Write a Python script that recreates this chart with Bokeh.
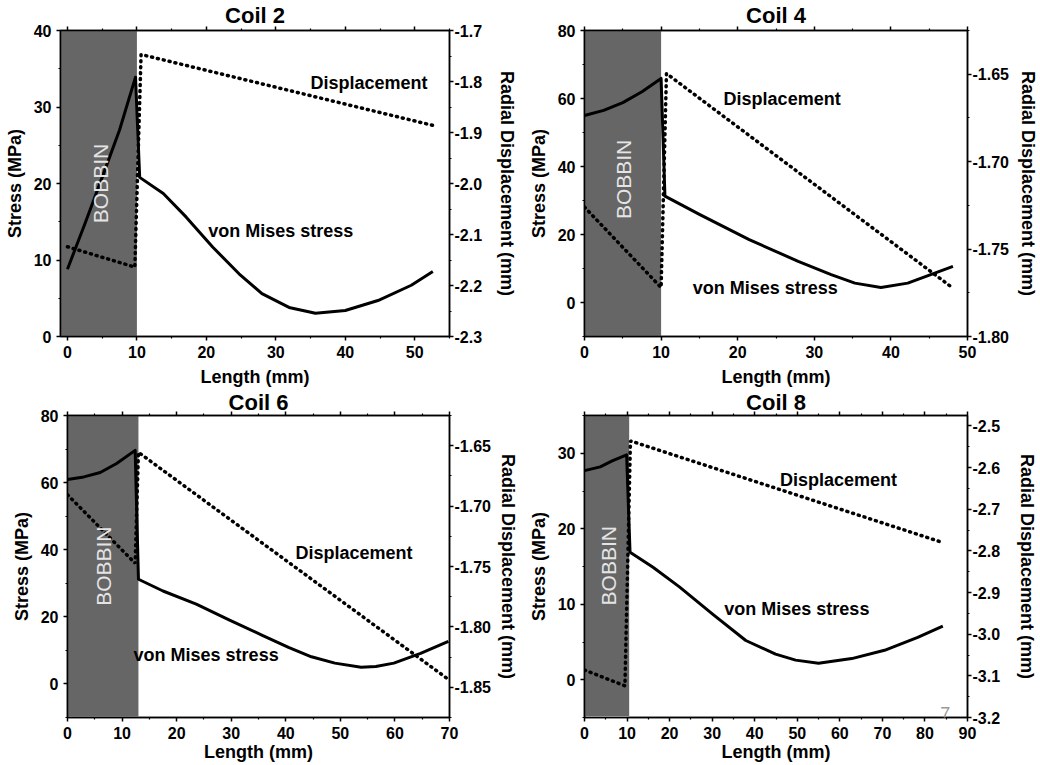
from bokeh.plotting import figure
from bokeh.models import Range1d, LinearAxis, FixedTicker, Label, PrintfTickFormatter
from bokeh.layouts import column, row
from bokeh.embed import file_html
from bokeh.resources import INLINE

FONT = "Liberation Sans"

# ---------------- data ----------------
titles = ["Coil 2", "Coil 4", "Coil 6", "Coil 8"]

# Coil 2
c2_stress_x = [0, 2.5, 5, 7.5, 9.8, 10.4, 13.8, 17.1, 20.9, 24.7, 28.0, 31.9, 35.7, 40.0, 44.7, 49.5, 52.6]
c2_stress = [8.8, 14.7, 20.8, 27.0, 33.9, 20.8, 18.7, 15.6, 11.7, 8.2, 5.6, 3.8, 3.05, 3.4, 4.7, 6.7, 8.5]
c2_disp_x = [0, 9.7, 10.6, 52.6]
c2_disp = [-2.124, -2.164, -1.747, -1.886]
c2_bobbin = [-1, 10]

# Coil 4
c4_stress_x = [0, 2.5, 5, 7.5, 10.0, 10.5, 15.0, 21.5, 27.9, 32.2, 35.3, 38.7, 42.2, 45.2, 48.1]
c4_stress = [55.0, 56.5, 58.8, 62.0, 65.9, 31.3, 25.9, 18.5, 12.1, 8.2, 5.7, 4.4, 5.7, 8.2, 10.6]
c4_disp_x = [0, 10.0, 10.7, 47.7]
c4_disp = [-1.726, -1.772, -1.6496, -1.771]
c4_bobbin = [0, 10]

# Coil 6
c6_stress_x = [0, 3, 6, 9, 12.4, 13.0, 17.5, 23.6, 29.6, 35.7, 40.5, 44.7, 49, 53.8, 56.5, 59.8, 64.7, 69.8]
c6_stress = [60.9, 61.7, 63.0, 65.7, 69.6, 31.2, 27.7, 23.8, 19.1, 14.5, 10.9, 8.1, 6.2, 5.0, 5.2, 6.2, 9.1, 12.7]
c6_disp_x = [0, 12.4, 13.0, 69.6]
c6_disp = [-1.6906, -1.7474, -1.6555, -1.8428]
c6_bobbin = [0, 13]

# Coil 8
c8_stress_x = [0, 3.7, 6.5, 9.9, 10.7, 16.1, 22.3, 30.1, 37.9, 44.9, 49.6, 55, 62.8, 70.5, 78.3, 84.2]
c8_stress = [27.7, 28.2, 29.0, 29.8, 16.9, 14.9, 12.3, 8.7, 5.2, 3.4, 2.6, 2.2, 2.8, 3.9, 5.6, 7.1]
c8_disp_x = [0, 9.5, 10.8, 83.6]
c8_disp = [-3.086, -3.124, -2.536, -2.778]
c8_bobbin = [0, 10.5]

# axis ranges
x_ranges = [(-1, 55), (0, 50), (0, 70), (0, 90)]
y_ranges = [(0, 40), (-10, 80), (-10, 80), (-5, 35)]
d_ranges = [(-2.3, -1.7), (-1.80, -1.625), (-1.875, -1.625), (-3.2, -2.475)]
d_formats = ["%.1f", "%.2f", "%.2f", "%.1f"]

# ticks
x_major = [[0, 10, 20, 30, 40, 50], [0, 10, 20, 30, 40, 50],
           [0, 10, 20, 30, 40, 50, 60, 70], [0, 10, 20, 30, 40, 50, 60, 70, 80, 90]]
x_minor = [[5, 15, 25, 35, 45, 55], [5, 15, 25, 35, 45],
           [5, 15, 25, 35, 45, 55, 65], [5, 15, 25, 35, 45, 55, 65, 75, 85]]
y_major = [[0, 10, 20, 30, 40], [0, 20, 40, 60, 80], [0, 20, 40, 60, 80], [0, 10, 20, 30]]
y_minor = [[5, 15, 25, 35], [-10, 10, 30, 50, 70], [-10, 10, 30, 50, 70], [-5, 5, 15, 25, 35]]
d_major = [[-2.3, -2.2, -2.1, -2.0, -1.9, -1.8, -1.7],
           [-1.80, -1.75, -1.70, -1.65],
           [-1.85, -1.80, -1.75, -1.70, -1.65],
           [-3.2, -3.1, -3.0, -2.9, -2.8, -2.7, -2.6, -2.5]]
d_minor = [[-2.25, -2.15, -2.05, -1.95, -1.85, -1.75],
           [-1.775, -1.725, -1.675, -1.625],
           [-1.875, -1.825, -1.775, -1.725, -1.675, -1.625],
           [-3.15, -3.05, -2.95, -2.85, -2.75, -2.65, -2.55]]

# annotation texts and their positions (data coords, left axis)
disp_label_xy = [(43.4, 33.2), (25.8, 60.0), (52.5, 39.0), (59.7, 26.4)]
vm_label_xy = [(30.7, 13.8), (23.6, 4.4), (25.4, 8.6), (49.9, 9.4)]
bobbin_label_xy = [(4.7, 20.0), (5.1, 36.2), (6.6, 35.1), (5.6, 15.1)]
bobbin_bottom = [0, -10, -9.7, -4.8]

stress_x = [c2_stress_x, c4_stress_x, c6_stress_x, c8_stress_x]
stress_y = [c2_stress, c4_stress, c6_stress, c8_stress]
disp_x = [c2_disp_x, c4_disp_x, c6_disp_x, c8_disp_x]
disp_y = [c2_disp, c4_disp, c6_disp, c8_disp]
bobbins = [c2_bobbin, c4_bobbin, c6_bobbin, c8_bobbin]

# layout: (width, height, left, right, top, bottom, xlabel_standoff,
#          xaxis_label_standoff, right_label_standoff, title_standoff)
layout = [
    (520, 390, 60, 68, 30, 54, 5, 6, 12, -3),
    (520, 390, 64, 69, 30, 54, 5, 6, 6, -3),
    (520, 375, 67, 67, 24, 48, 5, 0, 4, -6),
    (520, 375, 64, 70, 24, 48, 5, 0, 14, -6),
]


def style_axis(ax, ticks, minor, show_labels=True):
    ax.ticker = FixedTicker(ticks=ticks, minor_ticks=minor)
    ax.axis_line_color = "black"
    ax.axis_line_width = 1.5
    ax.major_tick_line_color = "black"
    ax.major_tick_line_width = 1.5
    ax.minor_tick_line_color = "black"
    ax.minor_tick_line_width = 1.2
    ax.major_tick_in = 0
    ax.major_tick_out = 4
    ax.minor_tick_in = 0
    ax.minor_tick_out = 2
    ax.major_label_text_font = FONT
    ax.major_label_text_font_style = "bold"
    ax.axis_label_text_font = FONT
    ax.axis_label_text_font_style = "bold"
    ax.axis_label_text_font_size = "18px"
    ax.axis_label_text_color = "black"
    if show_labels:
        ax.major_label_text_font_size = "16px"
        ax.major_label_text_color = "black"
    else:
        ax.major_label_text_font_size = "0px"
        ax.major_label_text_color = None
        ax.major_label_standoff = 0


panels = []
for i in range(4):
    w, h, bl, br, bt, bb, xls, xals, rals, tso = layout[i]
    xr, yr, dr = x_ranges[i], y_ranges[i], d_ranges[i]
    p = figure(width=w, height=h, output_backend="svg", toolbar_location=None,
               x_range=Range1d(*xr), y_range=Range1d(*yr), title=titles[i])
    p.extra_y_ranges = {"disp": Range1d(*dr)}
    p.min_border_left = bl
    p.min_border_right = br
    p.min_border_top = bt
    p.min_border_bottom = bb
    p.grid.visible = False
    p.outline_line_color = "black"
    p.outline_line_width = 1.5
    p.background_fill_color = "white"
    p.border_fill_color = "white"

    p.title.align = "center"
    p.title.text_font = FONT
    p.title.text_font_style = "bold"
    p.title.text_font_size = "22px"
    p.title.text_color = "black"
    p.title.standoff = tso
    p.title.offset = 0

    # bobbin
    p.quad(left=[bobbins[i][0]], right=[bobbins[i][1]], bottom=[bobbin_bottom[i]], top=[yr[1]],
           fill_color="#666666", line_color=None)
    p.add_layout(Label(x=bobbin_label_xy[i][0], y=bobbin_label_xy[i][1], text="BOBBIN", angle=1.5708,
                       text_align="center", text_baseline="middle", text_color="#e4e4e4",
                       text_font=FONT, text_font_size="21px"))

    # stress (solid)
    p.line(stress_x[i], stress_y[i], line_color="black", line_width=3, line_join="round")
    # displacement (dotted, right axis)
    p.line(disp_x[i], disp_y[i], y_range_name="disp", line_color="black", line_width=3.5,
           line_dash="1 5", line_cap="round")

    # axes
    style_axis(p.xaxis[0], x_major[i], x_minor[i])
    p.xaxis[0].axis_label = "Length (mm)"
    p.xaxis[0].major_label_standoff = xls
    p.xaxis[0].axis_label_standoff = xals
    style_axis(p.yaxis[0], y_major[i], y_minor[i])
    p.yaxis[0].axis_label = "Stress (MPa)"
    p.yaxis[0].major_label_standoff = 5
    p.yaxis[0].axis_label_standoff = 6

    rax = LinearAxis(y_range_name="disp", axis_label="Radial Displacement (mm)")
    style_axis(rax, d_major[i], d_minor[i])
    rax.formatter = PrintfTickFormatter(format=d_formats[i])
    rax.major_label_standoff = 1
    rax.axis_label_standoff = rals
    p.add_layout(rax, "right")

    tax = LinearAxis()
    style_axis(tax, x_major[i], x_minor[i], show_labels=False)
    p.add_layout(tax, "above")

    # text annotations
    p.add_layout(Label(x=disp_label_xy[i][0], y=disp_label_xy[i][1], text="Displacement",
                       text_align="center", text_baseline="middle", text_font=FONT,
                       text_font_style="bold", text_font_size="18px", text_color="black"))
    p.add_layout(Label(x=vm_label_xy[i][0], y=vm_label_xy[i][1], text="von Mises stress",
                       text_align="center", text_baseline="middle", text_font=FONT,
                       text_font_style="bold", text_font_size="18px", text_color="black"))
    panels.append(p)

# page number on last panel
panels[3].add_layout(Label(x=84.8, y=-4.5, text="7", text_align="center", text_baseline="middle",
                           text_font=FONT, text_font_size="18px", text_color="#999999"))

page = column(row(panels[0], panels[1]), row(panels[2], panels[3]))

open("out.html", "w").write(file_html(page, INLINE))
